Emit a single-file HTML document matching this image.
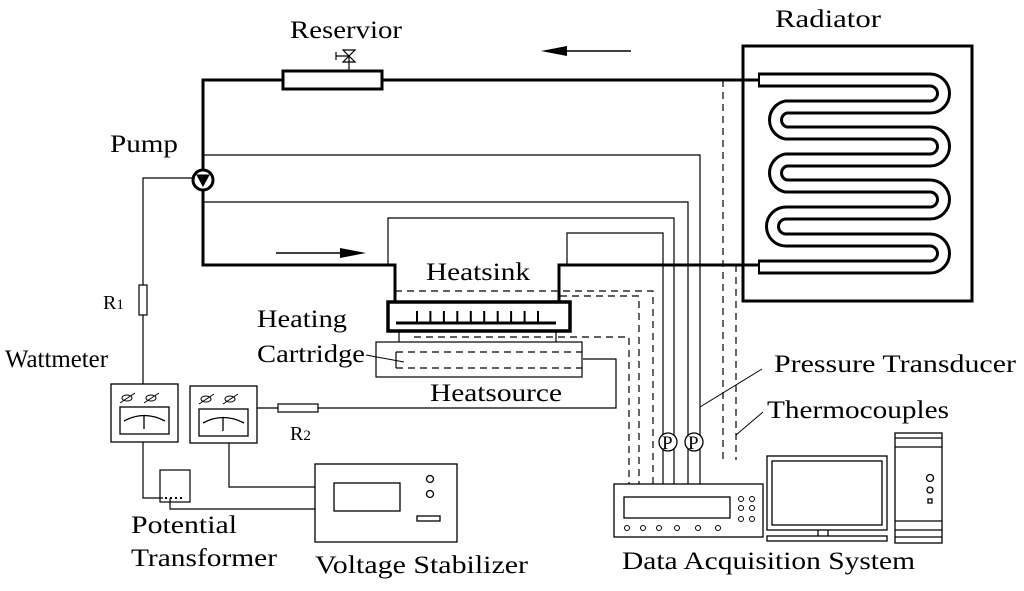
<!DOCTYPE html>
<html><head><meta charset="utf-8"><style>html,body{margin:0;padding:0;background:#fff}svg{display:block}</style></head>
<body>
<svg width="1024" height="591" viewBox="0 0 1024 591" xmlns="http://www.w3.org/2000/svg" font-family="Liberation Serif, serif" fill="none" stroke="#000">
<!-- Radiator -->
<rect x="743" y="46" width="229" height="255" stroke-width="3"/>
<path d="M758 80 H930 A13.4 13.4 0 0 1 930 107 H786 A13.3 13.3 0 0 0 786 133 H930 A13.5 13.5 0 0 1 930 160 H786 A13.3 13.3 0 0 0 786 186 H930 A13.5 13.5 0 0 1 930 213 H786 A13.5 13.5 0 0 0 786 240 H930 A13.5 13.5 0 0 1 930 267 H758" stroke-width="15" stroke-linejoin="round"/>
<path d="M760 80 H930 A13.4 13.4 0 0 1 930 107 H786 A13.3 13.3 0 0 0 786 133 H930 A13.5 13.5 0 0 1 930 160 H786 A13.3 13.3 0 0 0 786 186 H930 A13.5 13.5 0 0 1 930 213 H786 A13.5 13.5 0 0 0 786 240 H930 A13.5 13.5 0 0 1 930 267 H760" stroke-width="9" stroke="#fff" stroke-linejoin="round"/>
<!-- main loop pipes -->
<path d="M758 80 H203 V265 H395 V302 M559 302 V265 H758" stroke-width="3"/>
<rect x="283" y="71" width="99" height="18" fill="#fff" stroke-width="3"/>
<!-- valve -->
<g stroke-width="1.2"><path d="M349 71 V56 M343 50 H355 L343 62 H355 Z M336 56 H349 M336 52 V60"/></g>
<!-- pump -->
<circle cx="203" cy="180" r="10" fill="#fff" stroke-width="3"/>
<path d="M197 175 H209 L203 186 Z" fill="#000" stroke-width="1"/>
<!-- arrows -->
<path d="M631 51 H560" stroke-width="1.5"/><path d="M541 51 L567 46 V56 Z" fill="#000" stroke="none"/>
<path d="M276 253 H350" stroke-width="1.5"/><path d="M366 253 L340 248 V258 Z" fill="#000" stroke="none"/>
<!-- thin signal lines -->
<g stroke-width="1.2">
<path d="M203 155 H700 V484"/>
<path d="M203 202 H688 V484"/>
<path d="M388 265 V218 H674 V484"/>
<path d="M567 265 V233 H663 V484"/>
<path d="M193 178 H143 V285 M143 315 V384"/>
<rect x="139" y="285" width="8" height="30"/>
<path d="M583 359 H616 V408 H318 M278 408 H257"/>
<rect x="278" y="404" width="40" height="8"/>
<path d="M143 442 V498 H163"/>
<rect x="160" y="470" width="30" height="32"/>
<path d="M170 498 V509 H315"/>
<path d="M229 443 V487 H315"/>
</g>
<!-- dashed -->
<g stroke-width="1.2" stroke-dasharray="7,5">
<path d="M723 80 V460"/>
<path d="M736 265 V460"/>
<path d="M395 291 H653 V484"/>
<path d="M560 296 H639 V484"/>
<path d="M414 337 H629 V484"/>
<path d="M396 352 H582 M396 368 H582"/>
</g>
<path d="M396 352 V368" stroke-width="1.2"/>
<path d="M366 355 L404 362" stroke-width="1"/>
<!-- heatsink -->
<rect x="388" y="302" width="182" height="29" stroke-width="3.5"/>
<path d="M396 323 H556" stroke-width="3"/>
<path d="M417 323 V311 M430.4 323 V311 M443.9 323 V311 M457.3 323 V311 M470.8 323 V311 M484.2 323 V311 M497.7 323 V311 M511.1 323 V311 M524.6 323 V311 M538 323 V311" stroke-width="2"/>
<path d="M399 332 V342 M556 332 V342" stroke-width="1.2"/>
<rect x="376" y="342" width="206" height="35" stroke-width="1.2"/>
<!-- wattmeters -->
<g stroke-width="1.3">
<rect x="111" y="384" width="67" height="58"/>
<rect x="120" y="407" width="49" height="27"/>
<path d="M124 421 Q144 410 165 421 M144 416 V429"/>
<rect x="190" y="386" width="67" height="57"/>
<rect x="199" y="409" width="49" height="27"/>
<path d="M203 423 Q223 412 244 423 M223 418 V431"/>
<g stroke-width="1"><ellipse cx="127" cy="398" rx="5" ry="3"/><ellipse cx="151" cy="398" rx="5" ry="3"/><ellipse cx="206" cy="399" rx="5" ry="3"/><ellipse cx="230" cy="399" rx="5" ry="3"/>
<path d="M120 403 L135 393 M144 403 L159 393 M199 404 L214 394 M223 404 L238 394"/></g>
</g>
<path d="M165 498 h2 M170 498 h2 M175 498 h2 M180 498 h2" stroke-width="2"/>
<!-- voltage stabilizer -->
<g stroke-width="1.3">
<rect x="315" y="464" width="142" height="78"/>
<rect x="334" y="483" width="66" height="28"/>
<circle cx="430" cy="479" r="3.5"/><circle cx="430" cy="494" r="3.5"/>
<rect x="417" y="516" width="23" height="5"/>
</g>
<!-- DAQ -->
<g stroke-width="1.3">
<circle cx="668" cy="442" r="9" fill="#fff"/><circle cx="694" cy="442" r="9" fill="#fff"/>
<rect x="614" y="484" width="149" height="53" fill="#fff"/>
<rect x="624" y="497" width="106" height="21"/>
<g stroke-width="1"><circle cx="627" cy="528" r="2.5"/><circle cx="643" cy="528" r="2.5"/><circle cx="659" cy="528" r="2.5"/><circle cx="677" cy="528" r="2.5"/><circle cx="698" cy="528" r="2.5"/><circle cx="718" cy="528" r="2.5"/>
<circle cx="741" cy="499" r="2.5"/><circle cx="752" cy="499" r="2.5"/><circle cx="741" cy="508" r="2.5"/><circle cx="752" cy="508" r="2.5"/><circle cx="741" cy="519" r="2.5"/><circle cx="752" cy="519" r="2.5"/></g>
<rect x="767" y="456" width="120" height="74"/>
<rect x="772" y="461" width="110" height="64"/>
<path d="M818 530 V536 M828 530 V536"/>
<rect x="767" y="536" width="120" height="5"/>
<rect x="895" y="433" width="47" height="110"/>
<path d="M895 438 H942 M895 447 H942 M895 521 H942 M895 530 H942 M895 537 H942"/>
<circle cx="930" cy="478" r="3.5"/><circle cx="930" cy="490" r="3"/><rect x="928" y="499" width="4" height="4"/>
</g>
<path d="M762 369 L700 407 M763 412 L736 435" stroke-width="1"/>
<!-- text -->
<g fill="#000" stroke="none" font-size="25">
<text x="290" y="38" textLength="112" lengthAdjust="spacingAndGlyphs">Reservior</text>
<text x="775" y="27" textLength="106" lengthAdjust="spacingAndGlyphs">Radiator</text>
<text x="110" y="152" textLength="68" lengthAdjust="spacingAndGlyphs">Pump</text>
<text x="426" y="280" textLength="104" lengthAdjust="spacingAndGlyphs">Heatsink</text>
<text x="257" y="327" textLength="90" lengthAdjust="spacingAndGlyphs">Heating</text>
<text x="257" y="362" textLength="108" lengthAdjust="spacingAndGlyphs">Cartridge</text>
<text x="5" y="367" textLength="103" lengthAdjust="spacingAndGlyphs">Wattmeter</text>
<text x="430" y="401" textLength="132" lengthAdjust="spacingAndGlyphs">Heatsource</text>
<text x="131" y="533" textLength="106" lengthAdjust="spacingAndGlyphs">Potential</text>
<text x="131" y="566" textLength="146" lengthAdjust="spacingAndGlyphs">Transformer</text>
<text x="315" y="573" textLength="213" lengthAdjust="spacingAndGlyphs">Voltage Stabilizer</text>
<text x="774" y="372" textLength="242" lengthAdjust="spacingAndGlyphs">Pressure Transducer</text>
<text x="767" y="418" textLength="182" lengthAdjust="spacingAndGlyphs">Thermocouples</text>
<text x="622" y="569" textLength="293" lengthAdjust="spacingAndGlyphs">Data Acquisition System</text>
<text x="103" y="309" font-size="20">R<tspan font-size="15">1</tspan></text>
<text x="290" y="440" font-size="20">R<tspan font-size="15">2</tspan></text>
<text x="662" y="449" font-size="19">P</text>
<text x="688" y="449" font-size="19">P</text>
</g>
</svg>
</body></html>
